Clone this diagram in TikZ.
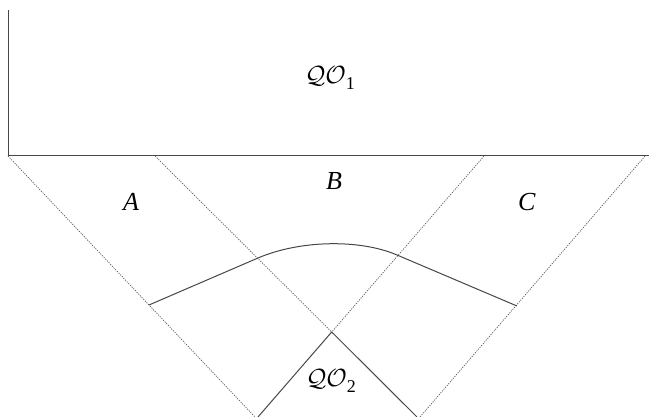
\documentclass[tikz,border=0pt]{standalone}
\usepackage{fontspec}
\setmainfont{Liberation Serif}
\begin{document}
\begin{tikzpicture}[x=1pt,y=-1pt,
  solidline/.style={draw=black!72,line width=1pt},
  dotline/.style={draw=black!65,line width=0.7pt,dash pattern=on 1.2pt off 1.2pt},
  lbl/.style={font=\fontsize{26}{30}\selectfont,inner sep=0pt}]
\useasboundingbox (0,0) rectangle (649,417);
% corner coordinates
\coordinate (TL) at (8,10);
\coordinate (BL) at (8,156);
\coordinate (BR) at (649,156);
\coordinate (OR) at (645,156);
\coordinate (IL) at (155,156);
\coordinate (IR) at (484,156);
\coordinate (OLb) at (255,417);
\coordinate (ORb) at (420,417);
\coordinate (apex) at (331.7,332);
\coordinate (SLb) at (258,417);
\coordinate (SRb) at (417,417);
\coordinate (c1) at (149,305);
\coordinate (c2) at (258,258);
\coordinate (c3) at (397,255);
\coordinate (c4) at (517,306);
% box
\draw[solidline] (TL) -- (BL) -- (BR);
% dotted lines
\draw[dotline] (BL) -- (OLb);
\draw[dotline] (OR) -- (ORb);
\draw[dotline] (IL) -- (apex);
\draw[dotline] (IR) -- (apex);
% QO2 wedge
\draw[solidline] (SLb) -- (apex) -- (SRb);
% curve
\draw[solidline] (c1) -- (c2) .. controls (300,240) and (360,239) .. (c3) -- (c4);
% labels
\node[lbl] (qo1) at (330,78) {$\mathcal{QO}$\raisebox{-0.25em}{\fontsize{18}{20}\selectfont 1}};
\node[lbl] (qo2) at (331,381) {$\mathcal{QO}$\raisebox{-0.25em}{\fontsize{18}{20}\selectfont 2}};
\node[lbl] (A) at (131,202) {\textit{A}};
\node[lbl] (B) at (334,181) {\textit{B}};
\node[lbl] (C) at (527,202) {\textit{C}};
\end{tikzpicture}
\end{document}
